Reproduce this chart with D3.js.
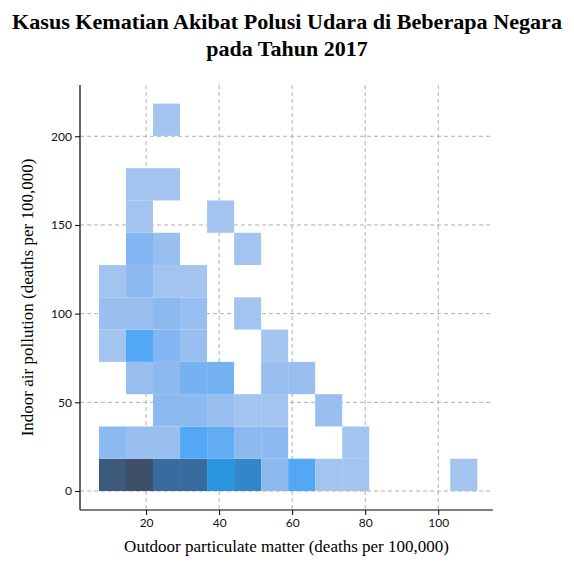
<!DOCTYPE html>
<html><head><meta charset="utf-8">
<script src="https://cdn.jsdelivr.net/npm/d3@7"></script>
<style>body{margin:0;background:#fff}</style>
</head><body>
<svg id="chart" width="574" height="565"></svg>
<script>
// Histogram 2D: bin origin and width for each axis
const xBinStart = 7.1, xBinWidth = 7.4;
const yBinStart = 0, yBinWidth = 18.2;
// counts per cell: [xBin, yBin, count]
const cells = [
  [0,0,14],[1,0,15],[2,0,12],[3,0,12],[4,0,9],[5,0,10],[6,0,3],[7,0,7],[8,0,1],[9,0,1],[13,0,1],
  [0,1,3],[1,1,2],[2,1,2],[3,1,7],[4,1,6],[5,1,3],[6,1,3],[9,1,1],
  [2,2,3],[3,2,3],[4,2,2],[5,2,1],[6,2,1],[8,2,2],
  [1,3,2],[2,3,3],[3,3,5],[4,3,5],[6,3,2],[7,3,2],
  [0,4,1],[1,4,7],[2,4,4],[3,4,2],[6,4,1],
  [0,5,2],[1,5,2],[2,5,3],[3,5,2],[5,5,1],
  [0,6,1],[1,6,3],[2,6,1],[3,6,1],
  [1,7,4],[2,7,2],[5,7,1],
  [1,8,1],[4,8,1],
  [1,9,1],[2,9,1],
  [2,11,1]
];
const xTicks = [20, 40, 60, 80, 100];
const yTicks = [0, 50, 100, 150, 200];
const countLevels = [1, 2, 3, 4, 5, 6, 7, 9, 10, 12, 14, 15];
const levelColors = ["#a4c4f0","#98bff0","#8cbaf0","#82b5f2","#74b2f2","#62acf4","#52a8f4",
  "#2a96e0","#3386c8","#386c9e","#3d5a7a","#3e4f6a"];

const margin = { top: 85, right: 81, bottom: 55, left: 80 },
  width = 574, height = 565,
  w = width - margin.left - margin.right,
  h = height - margin.top - margin.bottom;

const svg = d3.select("#chart");
const g = svg.append("g").attr("transform", `translate(${margin.left},${margin.top})`);

const x = d3.scaleLinear().domain([1.9, 115]).range([0, w]);
const y = d3.scaleLinear().domain([-10.7, 228.9]).range([h, 0]);
const color = d3.scaleLinear().domain(countLevels).range(levelColors);

// Grid
g.append("g").selectAll("line").data(xTicks).join("line")
  .attr("x1", d => x(d)).attr("x2", d => x(d)).attr("y1", 0).attr("y2", h)
  .attr("stroke", "#b0b0b0").attr("stroke-dasharray", "4,3");
g.append("g").selectAll("line").data(yTicks).join("line")
  .attr("y1", d => y(d)).attr("y2", d => y(d)).attr("x1", 0).attr("x2", w)
  .attr("stroke", "#b0b0b0").attr("stroke-dasharray", "4,3");

// Cells
g.append("g").selectAll("rect").data(cells).join("rect")
  .attr("x", d => x(xBinStart + d[0] * xBinWidth))
  .attr("width", d => x(xBinStart + (d[0] + 1) * xBinWidth) - x(xBinStart + d[0] * xBinWidth))
  .attr("y", d => y(yBinStart + (d[1] + 1) * yBinWidth))
  .attr("height", d => y(yBinStart + d[1] * yBinWidth) - y(yBinStart + (d[1] + 1) * yBinWidth))
  .attr("fill", d => color(d[2]));

// Axes
const xa = g.append("g").attr("transform", `translate(0,${h})`)
  .call(d3.axisBottom(x).tickValues(xTicks).tickSize(5));
const ya = g.append("g").call(d3.axisLeft(y).tickValues(yTicks).tickSize(5));
[xa, ya].forEach(a => {
  a.select(".domain").attr("stroke", "#000").attr("stroke-width", 1.2);
  a.selectAll("text").style("font-family", "Lato, sans-serif").style("font-size", "12px").attr("fill", "#111");
});
// only left and bottom spines
xa.select(".domain").attr("d", `M0,0H${w}`);
ya.select(".domain").attr("d", `M0,${h}V0`);

// Labels
const serif = "'Liberation Serif', serif";
svg.append("text").attr("x", 287).attr("y", 29).attr("text-anchor", "middle")
  .style("font-family", serif).style("font-size", "22px").style("font-weight", "bold")
  .attr("textLength", 550).attr("lengthAdjust", "spacingAndGlyphs")
  .text("Kasus Kematian Akibat Polusi Udara di Beberapa Negara");
svg.append("text").attr("x", 287).attr("y", 56).attr("text-anchor", "middle")
  .style("font-family", serif).style("font-size", "22px").style("font-weight", "bold")
  .text("pada Tahun 2017");
svg.append("text").attr("x", margin.left + w / 2).attr("y", 552).attr("text-anchor", "middle")
  .style("font-family", serif).style("font-size", "17px")
  .text("Outdoor particulate matter (deaths per 100,000)");
svg.append("text").attr("transform", `translate(33,${margin.top + h / 2}) rotate(-90)`)
  .attr("text-anchor", "middle")
  .style("font-family", serif).style("font-size", "17px")
  .text("Indoor air pollution (deaths per 100,000)");
</script>
</body></html>
